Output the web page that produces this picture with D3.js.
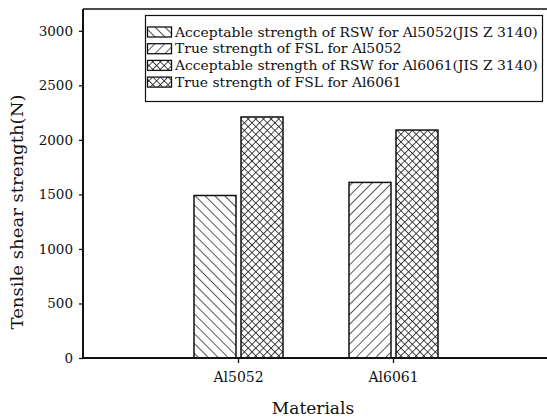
<!DOCTYPE html>
<html>
<head>
<meta charset="utf-8">
<script src="https://cdn.jsdelivr.net/npm/d3@7"></script>
<style>
  html, body { margin: 0; padding: 0; background: #fff; }
  svg { display: block; }
</style>
</head>
<body>
<div id="chart"></div>
<script>
// Tensile shear strength per material, hatched bars as in the scanned figure.

const categories = ["Al5052", "Al6061"];

const legendLabels = [
  "Acceptable strength of RSW for Al5052(JIS Z 3140)",
  "True strength of FSL for Al5052",
  "Acceptable strength of RSW for Al6061(JIS Z 3140)",
  "True strength of FSL for Al6061",
];
const legendPatterns = ["back", "fwd", "cross", "cross"];

// bars as they appear, left to right
const barCategory = ["Al5052", "Al5052", "Al6061", "Al6061"];
const barSlot     = [0, 1, 0, 1];
const barPattern  = ["back", "cross", "fwd", "cross"];
const barValues   = [1490, 2210, 1610, 2090];

const yTicks = [0, 500, 1000, 1500, 2000, 2500, 3000];

const W = 547, H = 418;
const M = { left: 83, right: -1, top: 9, bottom: 60 };
const font = "'DejaVu Serif', 'Liberation Serif', serif";
const ink = "#111";

const svg = d3.select("#chart").append("svg")
  .attr("width", W).attr("height", H);

const defs = svg.append("defs");

function hatch(id, angle, lines, step, sw) {
  const p = defs.append("pattern")
    .attr("id", id)
    .attr("patternUnits", "userSpaceOnUse")
    .attr("width", step).attr("height", step)
    .attr("patternTransform", `rotate(${angle})`);
  lines.forEach(l => {
    p.append("line")
      .attr("x1", l[0] * step).attr("y1", l[1] * step)
      .attr("x2", l[2] * step).attr("y2", l[3] * step)
      .attr("stroke", ink).attr("stroke-width", sw);
  });
}
hatch("back", 45, [[0, 0, 1, 0]], 7, 1.4);
hatch("fwd", -45, [[0, 0, 1, 0]], 7, 1.4);
hatch("cross", 45, [[0, 0, 1, 0], [0, 0, 0, 1]], 5.4, 1.5);

const x = d3.scaleLinear().domain([0, 3]).range([M.left, W - M.right]);
const y = d3.scaleLinear().domain([0, 3200]).range([H - M.bottom, M.top]);
const catPos = d3.scaleOrdinal().domain(categories).range([1, 2]);

const barW = 42, gap = 2;

// bars
svg.append("g").selectAll("rect")
  .data(barValues)
  .join("rect")
  .attr("x", (d, i) => x(catPos(barCategory[i])) + (barSlot[i] === 0 ? -barW - gap : gap + 1))
  .attr("y", d => y(d))
  .attr("width", barW)
  .attr("height", d => y(0) - y(d))
  .attr("fill", (d, i) => `url(#${barPattern[i]})`)
  .attr("stroke", ink)
  .attr("stroke-width", 1.5);

// frame
svg.append("line")
  .attr("x1", x(0)).attr("x2", W + 2)
  .attr("y1", M.top).attr("y2", M.top)
  .attr("stroke", ink).attr("stroke-width", 1.5);

// y axis
const yAxis = svg.append("g")
  .attr("transform", `translate(${x(0)},0)`)
  .call(d3.axisLeft(y).tickValues(yTicks).tickSize(4).tickPadding(6).tickSizeOuter(0)
    .tickFormat(d3.format("d")));
yAxis.select(".domain").attr("d", `M0,${M.top}V${y(0)}`).attr("stroke", ink).attr("stroke-width", 2);
yAxis.selectAll(".tick line").attr("stroke", ink).attr("stroke-width", 1.3);
yAxis.selectAll(".tick text")
  .attr("font-family", font).attr("font-size", 13.5).attr("fill", ink);

// x axis
const xAxis = svg.append("g")
  .attr("transform", `translate(0,${y(0)})`)
  .call(d3.axisBottom(x).tickValues([1, 2]).tickSize(5).tickPadding(9).tickSizeOuter(0)
    .tickFormat(v => categories[v - 1]));
xAxis.select(".domain").attr("d", `M${x(0)},0H${W + 2}`).attr("stroke", ink).attr("stroke-width", 2);
xAxis.selectAll(".tick line").attr("stroke", ink).attr("stroke-width", 1.3);
xAxis.selectAll(".tick text")
  .attr("font-family", font).attr("font-size", 14).attr("fill", ink);

// axis titles
svg.append("text")
  .attr("transform", `translate(23,212) rotate(-90)`)
  .attr("text-anchor", "middle")
  .attr("font-family", font).attr("font-size", 17).attr("fill", ink)
  .attr("textLength", 235).attr("lengthAdjust", "spacingAndGlyphs")
  .text("Tensile shear strength(N)");

svg.append("text")
  .attr("x", 313).attr("y", 414)
  .attr("text-anchor", "middle")
  .attr("font-family", font).attr("font-size", 17).attr("fill", ink)
  .text("Materials");

// legend
const lg = svg.append("g");
lg.append("rect")
  .attr("x", 145.5).attr("y", 15.5)
  .attr("width", 397).attr("height", 86)
  .attr("fill", "#fff").attr("stroke", ink).attr("stroke-width", 1.2);

legendLabels.forEach((label, i) => {
  const cy = 32 + i * 16.7;
  lg.append("rect")
    .attr("x", 147.5).attr("y", cy - 5)
    .attr("width", 24).attr("height", 10)
    .attr("fill", `url(#${legendPatterns[i]})`)
    .attr("stroke", ink).attr("stroke-width", 1.3);
  const t = lg.append("text")
    .attr("x", 175).attr("y", cy + 4.5)
    .attr("font-family", font).attr("font-size", 12.5).attr("fill", ink)
    .text(label);
  // the scanned font runs wider than DejaVu; stretch to match
  const w = t.node().getComputedTextLength();
  t.attr("textLength", w * 1.11).attr("lengthAdjust", "spacingAndGlyphs");
});
</script>
</body>
</html>
